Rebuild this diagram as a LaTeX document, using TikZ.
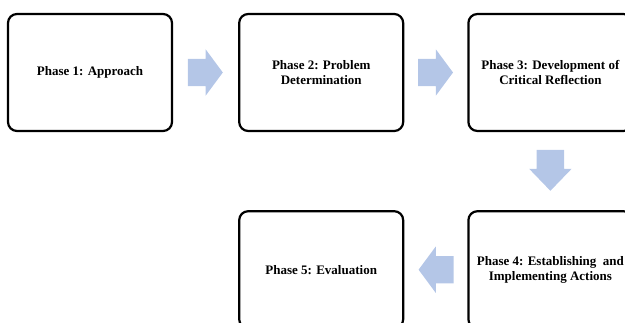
\documentclass[tikz,border=0pt]{standalone}
\usepackage{fontspec}
\setmainfont{Liberation Serif}
\usetikzlibrary{shapes.arrows, positioning, calc}
\definecolor{arrowblue}{RGB}{180,198,231}

\begin{document}
\begin{tikzpicture}[
    x=1pt, y=1pt,
    node distance=63pt,
    phase/.style={rectangle, rounded corners=9pt, draw=black, line width=2.2pt, fill=white,
                  minimum width=164pt, minimum height=117pt, align=center,
                  font=\bfseries\fontsize{13}{15}\selectfont},
    flow/.style={single arrow, fill=arrowblue, draw=none, inner xsep=0pt, inner ysep=13.5pt,
                 minimum height=35pt, anchor=tail,
                 single arrow head extend=9.5pt, single arrow tip angle=107}
]
    \clip (0,0) rectangle (625,-322);
    \useasboundingbox (0,0) rectangle (625,-322);

    % Row 1
    \node[phase] (p1) at (90,-72.5) {Phase 1: Approach};
    \node[phase, right=65pt of p1] (p2) {Phase 2: Problem\\Determination};
    \node[phase, right=of p2] (p3) {Phase 3: Development of\\Critical Reflection};

    % Row 2
    \node[phase, below=78pt of p3] (p4) {Phase 4: Establishing\ \ and\\Implementing Actions};
    \node[phase, left=of p4] (p5) {Phase 5: Evaluation};

    % Arrows
    \node[flow] (a12) at ($(p1.east)!0.5!(p2.west)+(-18,0)$) {};
    \node[flow] (a23) at ($(p2.east)!0.5!(p3.west)+(-18,0)$) {};
    \node[flow, rotate=-90, minimum height=41pt,
          single arrow head extend=7.5pt, single arrow tip angle=88] (a34) at ($(p3.south)!0.5!(p4.north)+(0,21.5)$) {};
    \node[flow, rotate=180] (a45) at ($(p4.west)!0.5!(p5.east)+(18,0)$) {};
\end{tikzpicture}
\end{document}
